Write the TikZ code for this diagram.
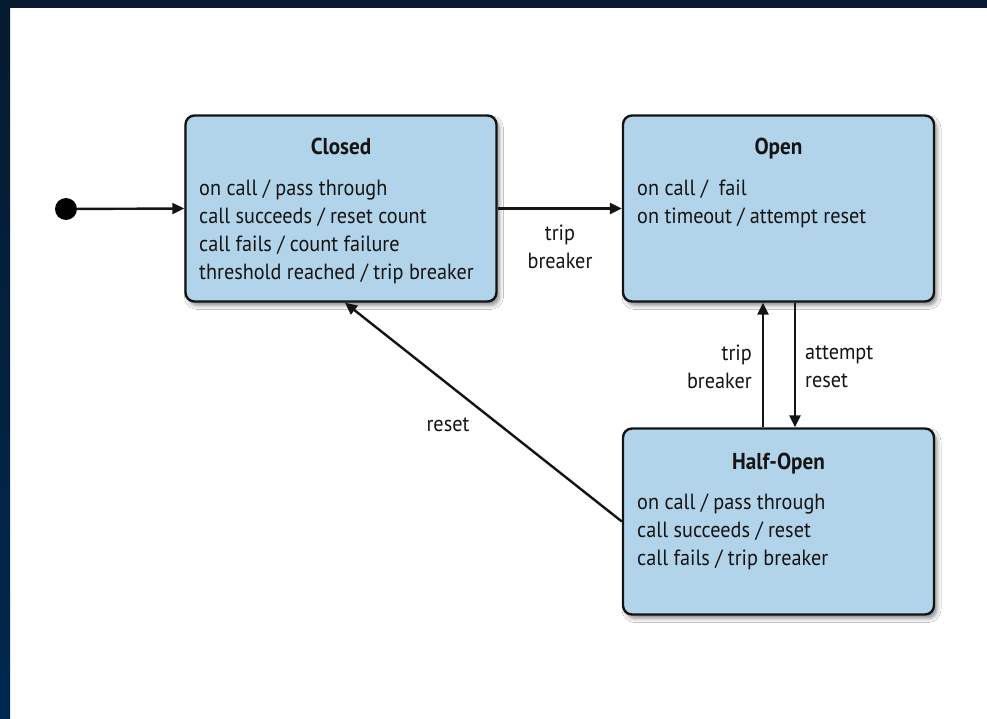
\documentclass[tikz,border=0pt]{standalone}
\usepackage{fontspec}
\setmainfont{PT Sans}[FakeStretch=0.92]
\usetikzlibrary{arrows.meta,shadows.blur}
\definecolor{statefill}{HTML}{B2D4EA}
\definecolor{frametop}{HTML}{061A30}
\definecolor{framebot}{HTML}{00284F}
\definecolor{ink}{HTML}{141414}
\tikzset{
  state/.style={draw=ink, line width=2.4pt, fill=statefill, rounded corners=9pt,
    minimum width=311pt, minimum height=186pt,
    blur shadow={shadow xshift=3pt, shadow yshift=-4pt, shadow blur radius=4pt, shadow opacity=45}},
  title/.style={font=\bfseries\fontsize{23}{26}\selectfont, text=ink, anchor=base},
  body/.style={font=\fontsize{22}{28}\selectfont, text=ink, align=left, anchor=north west, inner sep=0pt},
  lbl/.style={font=\fontsize{22}{28}\selectfont, text=ink, inner sep=0pt},
  trans/.style={draw=ink, line width=2.4pt, -{Triangle[length=12pt,width=11pt]}}
}
\begin{document}
\begin{tikzpicture}[x=1pt,y=-1pt]
\useasboundingbox (0,0) rectangle (987,719);
% page frame
\fill[white] (0,0) rectangle (987,719);
\shade[top color=frametop, bottom color=framebot] (0,0) rectangle (10,719);
\fill[frametop] (0,0) rectangle (987,8);

% states
\node[state] (c) at (341,208.5) {};
\node[state] (o) at (778.5,208.5) {};
\node[state] (h) at (778.5,521.5) {};

\node[title] (ct) at (341,155) {Closed};
\node[body] (cb) at (199,180) {on call / pass through\\call succeeds / reset count\\call fails / count failure\\threshold reached / trip breaker};

\node[title] (ot) at (778.5,155) {Open};
\node[body] (ob) at (637,180) {on call /\ \ fail\\on timeout / attempt reset};

\node[title] (ht) at (778.5,469) {Half-Open};
\node[body] (hb) at (637,494) {on call / pass through\\call succeeds / reset\\call fails / trip breaker};

% initial pseudo-state
\node[circle, fill=black, minimum size=22pt, inner sep=0pt] (init) at (66,209) {};

% transitions
\draw[trans] (init) -- (c.west);
\draw[trans] (c.east) -- (o.west);
\draw[trans] ([xshift=-15.5pt]h.north) -- ([xshift=-15.5pt]o.south);
\draw[trans] ([xshift=16.5pt]o.south) -- ([xshift=16.5pt]h.north);
\draw[trans] (h.west) -- ([xshift=4pt]c.south);

% transition labels
\node[lbl, align=center] (l1) at (560,247) {trip\\breaker};
\node[lbl, align=right, anchor=east] (l2) at (752,367) {trip\\breaker};
\node[lbl, align=left, anchor=west] (l3) at (805,367) {attempt\\reset};
\node[lbl] (l4) at (448,425) {reset};
\end{tikzpicture}
\end{document}
